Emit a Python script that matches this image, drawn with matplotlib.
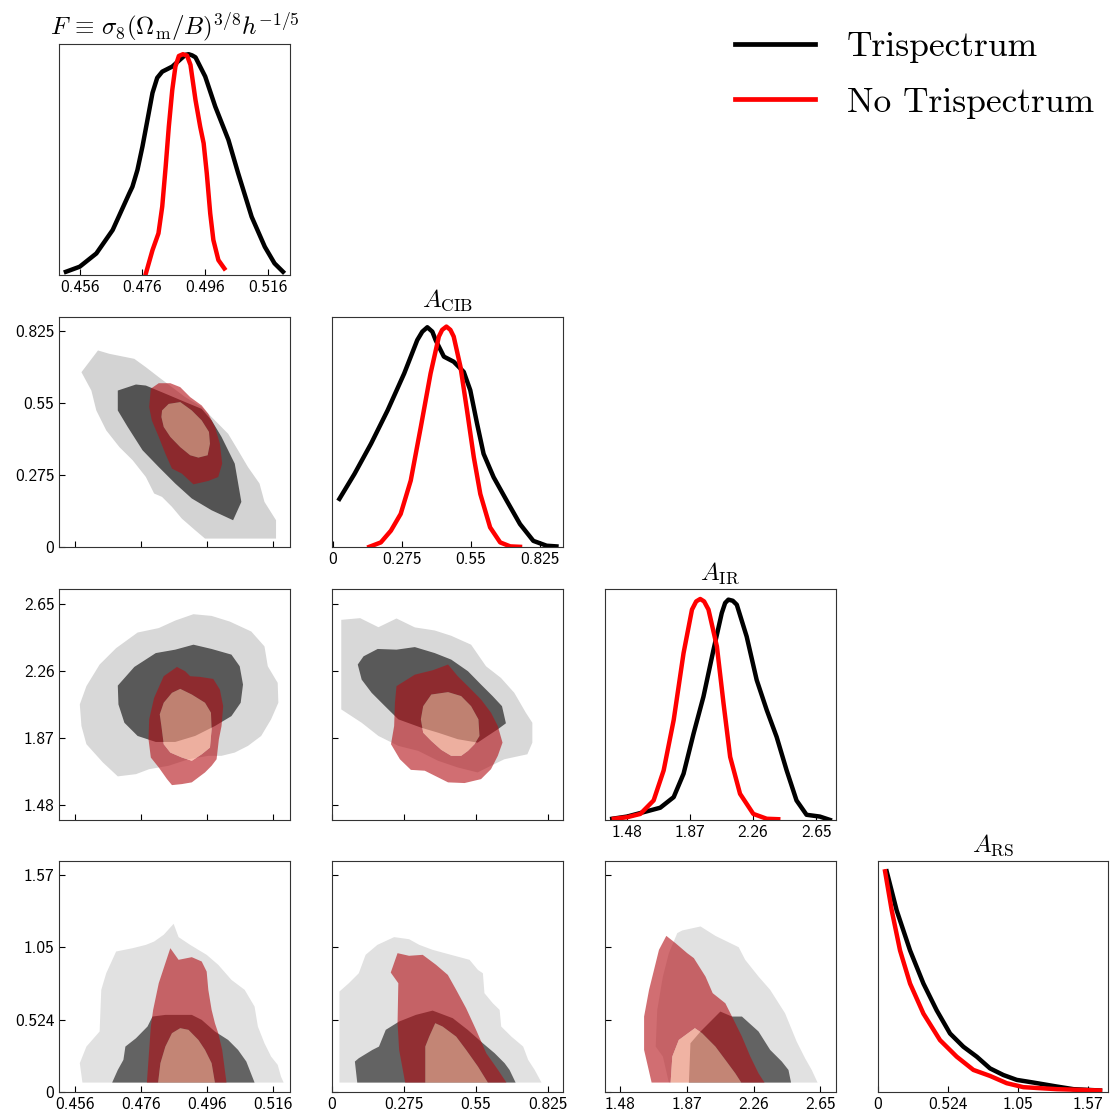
import matplotlib
matplotlib.use("Agg")
import matplotlib.pyplot as plt
import numpy as np
from matplotlib.path import Path
from matplotlib.patches import PathPatch
from matplotlib.lines import Line2D

plt.rcParams["mathtext.fontset"] = "cm"
plt.rcParams["font.family"] = "cmss10"

# parameter names, ticks
names = [r"$F \,\equiv\, \sigma_8(\Omega_{\rm m}/B)^{3/8}h^{-1/5}$",
         r"$A_{\rm CIB}$", r"$A_{\rm IR}$", r"$A_{\rm RS}$"]
tick_vals = [[0.456, 0.476, 0.496, 0.516],
             [0, 0.275, 0.55, 0.825],
             [1.48, 1.87, 2.26, 2.65],
             [0, 0.524, 1.05, 1.57]]
tick_text = [["0.456", "0.476", "0.496", "0.516"],
             ["0", "0.275", "0.55", "0.825"],
             ["1.48", "1.87", "2.26", "2.65"],
             ["0", "0.524", "1.05", "1.57"]]
lim_2d = [(0.4513, 0.5211), (0, 0.881), (1.391, 2.739), (0, 1.668)]
lim_1d = [(0.4495, 0.523), (-0.003, 0.915), (1.345, 2.77), (0, 1.725)]
series = ["Trispectrum", "No Trispectrum"]

# 1D marginals (peak normalised)
f_x_tri = [0.4516, 0.456, 0.4613, 0.4665, 0.4718, 0.4728, 0.4744, 0.4760, 0.4776, 0.4792,
           0.4807, 0.4823, 0.4855, 0.4881, 0.4897, 0.4907, 0.4918, 0.4929, 0.4960, 0.4992,
           0.5034, 0.5065, 0.5108, 0.5150, 0.5181, 0.5208]
f_p_tri = [0.015, 0.038, 0.098, 0.204, 0.370, 0.400, 0.476, 0.582, 0.703, 0.825,
           0.893, 0.921, 0.944, 0.977, 0.997, 1.0, 0.995, 0.986, 0.899, 0.763,
           0.612, 0.461, 0.264, 0.128, 0.053, 0.015]
f_x_no = [0.4771, 0.4792, 0.4811, 0.4823, 0.4834, 0.4844, 0.4855, 0.4865, 0.4876, 0.4889,
          0.4902, 0.4913, 0.4929, 0.4944, 0.4955, 0.4965, 0.4976, 0.4986, 0.5002, 0.5021]
f_p_no = [0.008, 0.113, 0.189, 0.310, 0.491, 0.672, 0.838, 0.944, 0.992, 1.0,
          0.994, 0.952, 0.793, 0.672, 0.597, 0.461, 0.279, 0.159, 0.068, 0.030]

cib_x_tri = [0.026, 0.086, 0.152, 0.218, 0.284, 0.336, 0.356, 0.376, 0.396, 0.409, 0.442,
             0.481, 0.521, 0.547, 0.574, 0.600, 0.640, 0.692, 0.745, 0.798, 0.851, 0.890]
cib_p_tri = [0.220, 0.333, 0.470, 0.621, 0.788, 0.939, 0.977, 0.997, 0.977, 0.939, 0.864,
             0.841, 0.795, 0.712, 0.561, 0.424, 0.318, 0.212, 0.106, 0.030, 0.008, 0.005]
cib_x_no = [0.145, 0.191, 0.231, 0.270, 0.310, 0.350, 0.389, 0.422, 0.435, 0.452, 0.468,
            0.481, 0.508, 0.534, 0.561, 0.587, 0.626, 0.666, 0.706, 0.745]
cib_p_no = [0.003, 0.023, 0.076, 0.152, 0.303, 0.545, 0.788, 0.955, 0.985, 1.0, 0.985,
            0.955, 0.818, 0.621, 0.409, 0.242, 0.091, 0.023, 0.005, 0.003]

ir_x_tri = [1.390, 1.482, 1.585, 1.687, 1.770, 1.831, 1.893, 1.954, 2.016, 2.067, 2.088,
            2.108, 2.135, 2.160, 2.221, 2.283, 2.345, 2.406, 2.468, 2.529, 2.591, 2.673, 2.735]
ir_p_tri = [0.005, 0.015, 0.035, 0.055, 0.103, 0.209, 0.391, 0.558, 0.770, 0.936, 0.982,
            0.997, 0.992, 0.974, 0.830, 0.633, 0.497, 0.376, 0.224, 0.088, 0.023, 0.015, 0.0]
ir_x_no = [1.400, 1.482, 1.564, 1.646, 1.708, 1.770, 1.831, 1.883, 1.909, 1.934, 1.958,
           1.985, 2.037, 2.078, 2.119, 2.180, 2.262, 2.345, 2.416]
ir_p_no = [0.005, 0.012, 0.027, 0.088, 0.224, 0.452, 0.755, 0.952, 0.989, 1.0, 0.989,
           0.952, 0.785, 0.527, 0.285, 0.118, 0.027, 0.005, 0.003]

rs_x_tri = [0.067, 0.142, 0.242, 0.342, 0.441, 0.541, 0.641, 0.741, 0.840, 0.940,
            1.040, 1.164, 1.339, 1.464, 1.663]
rs_p_tri = [1.0, 0.823, 0.642, 0.492, 0.371, 0.266, 0.206, 0.161, 0.108, 0.078,
            0.056, 0.044, 0.026, 0.014, 0.008]
rs_x_no = [0.055, 0.105, 0.167, 0.242, 0.342, 0.466, 0.591, 0.716, 0.840, 0.965,
           1.090, 1.339, 1.663]
rs_p_no = [1.0, 0.823, 0.642, 0.492, 0.356, 0.236, 0.161, 0.101, 0.074, 0.041,
           0.023, 0.014, 0.008]

# 2D credible regions, [x values], [y values]
cib_f_tri95 = [[0.4580, 0.4630, 0.4665, 0.4740, 0.4775, 0.4814, 0.4854, 0.4894, 0.4944, 0.4984,
                0.5024, 0.5054, 0.5084, 0.5119, 0.5134, 0.5169, 0.5169, 0.4954, 0.4924, 0.4884,
                0.4854, 0.4824, 0.4800, 0.4775, 0.4735, 0.4695, 0.4655, 0.4625, 0.4610],
               [0.669, 0.752, 0.739, 0.720, 0.688, 0.650, 0.612, 0.574, 0.536, 0.485,
                0.434, 0.371, 0.307, 0.244, 0.174, 0.104, 0.034, 0.034, 0.066, 0.110,
                0.155, 0.193, 0.206, 0.269, 0.333, 0.383, 0.447, 0.523, 0.599]]
cib_f_tri68 = [[0.4690, 0.4745, 0.4775, 0.4834, 0.4894, 0.4944, 0.4974, 0.5004, 0.5024, 0.5044,
                0.5064, 0.5039, 0.4974, 0.4914, 0.4864, 0.4814, 0.4765, 0.4720, 0.4690],
               [0.599, 0.622, 0.618, 0.587, 0.555, 0.529, 0.485, 0.422, 0.371, 0.320,
                0.174, 0.104, 0.142, 0.187, 0.244, 0.307, 0.371, 0.460, 0.523]]
cib_f_no95 = [[0.4790, 0.4814, 0.4849, 0.4879, 0.4909, 0.4944, 0.4964, 0.4984, 0.4999, 0.5006,
               0.4994, 0.4964, 0.4919, 0.4884, 0.4854, 0.4834, 0.4814, 0.4793, 0.4785],
              [0.606, 0.627, 0.627, 0.612, 0.574, 0.542, 0.510, 0.460, 0.396, 0.320,
               0.269, 0.254, 0.241, 0.282, 0.301, 0.358, 0.422, 0.485, 0.536]]
cib_f_no68 = [[0.4824, 0.4844, 0.4879, 0.4914, 0.4944, 0.4966, 0.4969, 0.4962, 0.4934, 0.4909,
               0.4879, 0.4849, 0.4829, 0.4822],
              [0.523, 0.548, 0.555, 0.523, 0.485, 0.441, 0.396, 0.352, 0.343, 0.352,
               0.383, 0.422, 0.460, 0.498]]

ir_f_tri95 = [[0.4575, 0.4595, 0.4635, 0.4685, 0.4750, 0.4814, 0.4864, 0.4919, 0.4974, 0.5029,
               0.5094, 0.5134, 0.5144, 0.5174, 0.5176, 0.5154, 0.5124, 0.5084, 0.5044, 0.5004,
               0.4964, 0.4904, 0.4844, 0.4785, 0.4745, 0.4690, 0.4645, 0.4595, 0.4580],
              [2.065, 2.172, 2.298, 2.394, 2.485, 2.511, 2.555, 2.592, 2.582, 2.549,
               2.491, 2.404, 2.288, 2.191, 2.075, 1.978, 1.881, 1.823, 1.784, 1.765,
               1.765, 1.745, 1.707, 1.687, 1.658, 1.645, 1.726, 1.833, 1.939]]
ir_f_tri68 = [[0.4690, 0.4740, 0.4805, 0.4864, 0.4919, 0.4974, 0.5034, 0.5059, 0.5069, 0.5062,
               0.5034, 0.4984, 0.4924, 0.4864, 0.4805, 0.4750, 0.4710, 0.4692],
              [2.175, 2.284, 2.365, 2.385, 2.414, 2.389, 2.356, 2.288, 2.181, 2.075,
               1.997, 1.939, 1.881, 1.846, 1.846, 1.881, 1.958, 2.065]]
ir_f_no95 = [[0.4829, 0.4869, 0.4894, 0.4909, 0.4939, 0.4979, 0.4999, 0.5009, 0.5004, 0.4996,
              0.4989, 0.4974, 0.4954, 0.4914, 0.4884, 0.4854, 0.4839, 0.4814, 0.4790, 0.4783,
              0.4785, 0.4800],
             [2.230, 2.284, 2.259, 2.230, 2.226, 2.214, 2.152, 2.055, 1.939, 1.862,
              1.745, 1.707, 1.668, 1.610, 1.600, 1.594, 1.629, 1.697, 1.755, 1.862,
              1.978, 2.104]]
ir_f_no68 = [[0.4829, 0.4854, 0.4879, 0.4914, 0.4954, 0.4972, 0.4974, 0.4969, 0.4944, 0.4914,
              0.4884, 0.4849, 0.4829, 0.4822, 0.4817],
             [2.075, 2.133, 2.156, 2.123, 2.075, 2.017, 1.920, 1.813, 1.774, 1.736,
              1.755, 1.784, 1.833, 1.939, 2.007]]

ir_cib_tri95 = [[0.035, 0.107, 0.177, 0.246, 0.316, 0.392, 0.455, 0.531, 0.588, 0.645, 0.696,
                 0.740, 0.765, 0.765, 0.746, 0.658, 0.607, 0.556, 0.480, 0.405, 0.329, 0.253,
                 0.177, 0.113, 0.035],
                [2.559, 2.569, 2.516, 2.567, 2.515, 2.497, 2.466, 2.414, 2.288, 2.220, 2.133,
                 2.017, 1.958, 1.842, 1.774, 1.745, 1.707, 1.668, 1.697, 1.736, 1.794, 1.823,
                 1.881, 1.958, 2.036]]
ir_cib_tri68 = [[0.098, 0.120, 0.174, 0.246, 0.316, 0.392, 0.455, 0.519, 0.569, 0.613, 0.649,
                 0.664, 0.633, 0.594, 0.556, 0.480, 0.405, 0.341, 0.253, 0.202, 0.151, 0.113],
                [2.298, 2.346, 2.389, 2.385, 2.400, 2.365, 2.327, 2.259, 2.181, 2.114, 2.055,
                 1.955, 1.920, 1.881, 1.842, 1.862, 1.900, 1.929, 1.978, 2.055, 2.133, 2.210]]
ir_cib_no95 = [[0.246, 0.316, 0.385, 0.443, 0.480, 0.525, 0.569, 0.607, 0.633, 0.651, 0.633,
                0.607, 0.569, 0.506, 0.443, 0.392, 0.354, 0.301, 0.259, 0.225, 0.237, 0.240],
               [2.172, 2.239, 2.265, 2.298, 2.230, 2.162, 2.094, 2.017, 1.939, 1.842, 1.765,
                1.687, 1.629, 1.606, 1.610, 1.649, 1.678, 1.683, 1.745, 1.833, 1.939, 2.075]]
ir_cib_no68 = [[0.348, 0.379, 0.443, 0.493, 0.531, 0.559, 0.563, 0.544, 0.519, 0.493, 0.455,
                0.417, 0.379, 0.348, 0.339],
               [2.055, 2.123, 2.137, 2.114, 2.055, 1.978, 1.881, 1.833, 1.794, 1.765, 1.765,
                1.800, 1.852, 1.900, 1.978]]

rs_f_tri95 = [[0.4583, 0.4575, 0.4595, 0.4635, 0.4640, 0.4655, 0.4685, 0.4735, 0.4775, 0.4800,
               0.4829, 0.4859, 0.4874, 0.4909, 0.4959, 0.4994, 0.5034, 0.5074, 0.5104, 0.5114,
               0.5134, 0.5154, 0.5174, 0.5184, 0.5192],
              [0.070, 0.210, 0.330, 0.439, 0.740, 0.860, 1.017, 1.041, 1.065, 1.089,
               1.138, 1.217, 1.121, 1.065, 0.993, 0.921, 0.812, 0.740, 0.619, 0.475,
               0.354, 0.258, 0.198, 0.113, 0.070]]
rs_f_tri68 = [[0.4673, 0.4690, 0.4707, 0.4713, 0.4745, 0.4780, 0.4795, 0.4834, 0.4914, 0.4944,
               0.4984, 0.5024, 0.5054, 0.5079, 0.5104],
              [0.070, 0.161, 0.234, 0.330, 0.390, 0.475, 0.547, 0.559, 0.559, 0.523,
               0.439, 0.378, 0.306, 0.222, 0.070]]
rs_f_no95 = [[0.4778, 0.4790, 0.4797, 0.4814, 0.4834, 0.4849, 0.4874, 0.4914, 0.4944, 0.4959,
              0.4964, 0.4974, 0.4984, 0.4994, 0.5006, 0.5019],
             [0.070, 0.475, 0.595, 0.788, 0.933, 1.041, 0.957, 0.976, 0.945, 0.872,
              0.740, 0.595, 0.499, 0.427, 0.306, 0.070]]
rs_f_no68 = [[0.4812, 0.4819, 0.4834, 0.4854, 0.4879, 0.4904, 0.4934, 0.4954, 0.4974, 0.4984],
             [0.070, 0.210, 0.330, 0.427, 0.463, 0.451, 0.378, 0.306, 0.210, 0.070]]

rs_cib_tri95 = [[0.028, 0.028, 0.064, 0.102, 0.128, 0.173, 0.237, 0.294, 0.333, 0.384, 0.454, 0.525,
                 0.557, 0.576, 0.582, 0.614, 0.640, 0.646, 0.685, 0.730, 0.749, 0.774, 0.800],
                [0.070, 0.728, 0.788, 0.860, 0.993, 1.065, 1.121, 1.106, 1.065, 1.029, 0.993, 0.957,
                 0.884, 0.860, 0.716, 0.643, 0.595, 0.475, 0.402, 0.330, 0.234, 0.161, 0.070]]
rs_cib_tri68 = [[0.096, 0.087, 0.102, 0.154, 0.179, 0.205, 0.256, 0.320, 0.384, 0.461, 0.518,
                 0.576, 0.621, 0.659, 0.678, 0.701],
                [0.070, 0.222, 0.246, 0.306, 0.330, 0.451, 0.511, 0.559, 0.590, 0.535, 0.451,
                 0.354, 0.282, 0.210, 0.161, 0.070]]
rs_cib_no95 = [[0.279, 0.256, 0.250, 0.253, 0.224, 0.250, 0.294, 0.346, 0.397, 0.442, 0.474,
                0.512, 0.550, 0.589, 0.634, 0.666],
               [0.070, 0.306, 0.499, 0.788, 0.865, 1.005, 0.986, 0.993, 0.921, 0.848, 0.740,
                0.607, 0.451, 0.282, 0.161, 0.070]]
rs_cib_no68 = [[0.356, 0.356, 0.371, 0.394, 0.422, 0.474, 0.512, 0.557, 0.595],
               [0.070, 0.330, 0.402, 0.499, 0.475, 0.402, 0.306, 0.186, 0.070]]

rs_ir_tri95 = [[1.765, 1.730, 1.688, 1.697, 1.730, 1.765, 1.814, 1.843, 1.950, 2.037, 2.173,
                2.211, 2.289, 2.357, 2.444, 2.512, 2.561, 2.600, 2.634],
               [0.070, 0.258, 0.330, 0.595, 0.836, 1.005, 1.150, 1.169, 1.198, 1.130, 1.048,
                0.957, 0.836, 0.740, 0.571, 0.366, 0.246, 0.161, 0.070]]
rs_ir_tri68 = [[1.882, 1.891, 1.950, 2.066, 2.134, 2.192, 2.289, 2.357, 2.425, 2.464, 2.479],
               [0.070, 0.354, 0.439, 0.583, 0.547, 0.547, 0.439, 0.306, 0.222, 0.161, 0.070]]
rs_ir_no95 = [[1.664, 1.620, 1.620, 1.649, 1.678, 1.707, 1.750, 1.804, 1.872, 1.911, 1.979,
               2.021, 2.095, 2.134, 2.192, 2.241, 2.289, 2.324],
              [0.070, 0.306, 0.547, 0.740, 0.884, 1.029, 1.130, 1.077, 1.005, 0.969, 0.836,
               0.716, 0.643, 0.547, 0.402, 0.258, 0.137, 0.070]]
rs_ir_no68 = [[1.775, 1.785, 1.823, 1.917, 1.959, 2.037, 2.095, 2.153, 2.188],
              [0.070, 0.258, 0.378, 0.463, 0.427, 0.330, 0.234, 0.137, 0.070]]

marg_tri = [(f_x_tri, f_p_tri), (cib_x_tri, cib_p_tri), (ir_x_tri, ir_p_tri), (rs_x_tri, rs_p_tri)]
marg_no = [(f_x_no, f_p_no), (cib_x_no, cib_p_no), (ir_x_no, ir_p_no), (rs_x_no, rs_p_no)]
regions = {(1, 0): (cib_f_tri95, cib_f_tri68, cib_f_no95, cib_f_no68),
           (2, 0): (ir_f_tri95, ir_f_tri68, ir_f_no95, ir_f_no68),
           (2, 1): (ir_cib_tri95, ir_cib_tri68, ir_cib_no95, ir_cib_no68),
           (3, 0): (rs_f_tri95, rs_f_tri68, rs_f_no95, rs_f_no68),
           (3, 1): (rs_cib_tri95, rs_cib_tri68, rs_cib_no95, rs_cib_no68),
           (3, 2): (rs_ir_tri95, rs_ir_tri68, rs_ir_no95, rs_ir_no68)}

gray_light = {1: "#d3d3d3", 2: "#d8d8d8", 3: "#e1e1e1"}
gray_dark = {1: "#535353", 2: "#595959", 3: "#636363"}
red_outer = (0.70, 0.05, 0.08)
red_inner = (0.98, 0.60, 0.50)


def signed_area(p):
    return 0.5 * np.sum(p[:, 0] * np.roll(p[:, 1], -1) - np.roll(p[:, 0], -1) * p[:, 1])


def ring_path(outer, inner):
    o = np.array(outer).T
    i = np.array(inner).T
    if np.sign(signed_area(o)) == np.sign(signed_area(i)):
        i = i[::-1]
    verts = np.concatenate([o, o[:1], i, i[:1]])
    codes = ([Path.MOVETO] + [Path.LINETO] * (len(o) - 1) + [Path.CLOSEPOLY]
             + [Path.MOVETO] + [Path.LINETO] * (len(i) - 1) + [Path.CLOSEPOLY])
    return Path(verts, codes)


fig = plt.figure(figsize=(11.15, 11.15), dpi=100)
axes = fig.subplots(4, 4)
fig.subplots_adjust(left=0.0532, right=0.994, bottom=0.0204, top=0.9603,
                    wspace=0.183, hspace=0.18)

for r in range(4):
    for c in range(4):
        ax = axes[r, c]
        if c > r:
            ax.axis("off")
            continue
        ax.tick_params(direction="in", length=4, width=0.8, labelsize=12.5,
                       top=False, right=False)
        for s in ax.spines.values():
            s.set_color("#333333")
        if r == c:
            xs, ps = marg_tri[c]
            ax.plot(xs, ps, color="black", lw=3.2, solid_joinstyle="round")
            xs, ps = marg_no[c]
            ax.plot(xs, ps, color="#ff0000", lw=3.2, solid_joinstyle="round")
            ax.set_xlim(*lim_1d[c])
            ax.set_ylim(0, 1.045)
            ax.set_yticks([])
            ax.set_xticks(tick_vals[c])
            ax.set_xticklabels(tick_text[c])
            ax.set_title(names[c], fontsize=18, pad=7)
        else:
            t95, t68, n95, n68 = regions[(r, c)]
            ax.fill(t95[0], t95[1], color=gray_light[r], lw=0)
            ax.fill(t68[0], t68[1], color=gray_dark[r], lw=0)
            ax.add_patch(PathPatch(ring_path(n95, n68), facecolor=red_outer,
                                   alpha=0.6, lw=0))
            ax.fill(n68[0], n68[1], color=red_inner, alpha=0.64, lw=0)
            ax.set_xlim(*lim_2d[c])
            ax.set_ylim(*lim_2d[r])
            ax.set_xticks(tick_vals[c])
            ax.set_yticks(tick_vals[r])
            if r == 3:
                ax.set_xticklabels(tick_text[c])
            else:
                ax.set_xticklabels([])
            if c == 0:
                ax.set_yticklabels(tick_text[r])
            else:
                ax.set_yticklabels([])

handles = [Line2D([], [], color="black", lw=3.4), Line2D([], [], color="#ff0000", lw=3.4)]
fig.legend(handles, series, loc="upper right", bbox_to_anchor=(0.981, 0.972),
           frameon=False, prop={"family": "cmr10", "size": 25.5},
           handlelength=2.25, handletextpad=0.9, labelspacing=0.68,
           borderaxespad=0, borderpad=0)

fig.savefig("out.png", dpi=100)
